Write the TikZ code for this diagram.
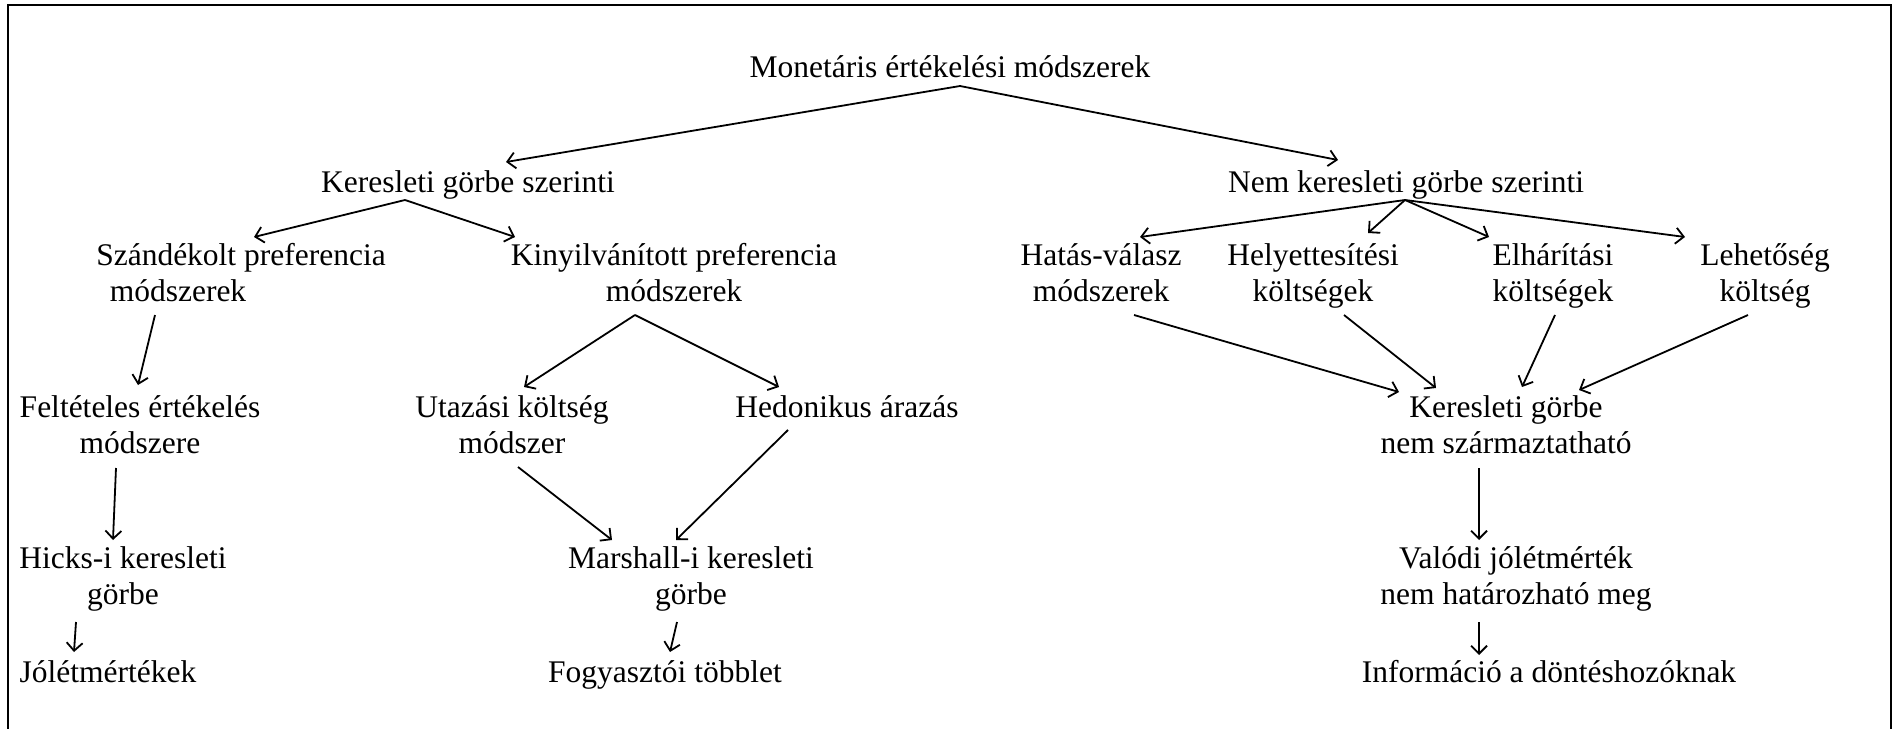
\documentclass[tikz,border=0pt]{standalone}
\usepackage{fontspec}
\setmainfont{Liberation Serif}
\usetikzlibrary{arrows.meta}
\tikzset{
  lbl/.style={anchor=base, align=center, inner sep=0pt, font=\fontsize{31.5}{36}\selectfont},
  arr/.style={line width=1.8pt, -{Straight Barb[length=8pt,width=16pt]}}
}
\begin{document}
\begin{tikzpicture}[x=1pt,y=-1pt]
        \useasboundingbox (0,0) rectangle (1894,728);
        \draw[line width=2pt] (8,740) -- (8,5) -- (1891,5) -- (1891,740);
        % levels (two-line nodes sit on their last line)
        \node[lbl] (mon) at (950,77) {Monetáris értékelési módszerek};
        \node[lbl] (ker) at (468,192) {Keresleti görbe szerinti};
        \node[lbl] (nem) at (1406,192) {Nem keresleti görbe szerinti};
        \node[lbl] (szan) at (241,301) {Szándékolt preferencia\\módszerek\hspace*{4em}};
        \node[lbl] (kin) at (674,301) {Kinyilvánított preferencia\\módszerek};
        \node[lbl] (hat) at (1101,301) {Hatás-válasz\\módszerek};
        \node[lbl] (hely) at (1313,301) {Helyettesítési\\költségek};
        \node[lbl] (elh) at (1553,301) {Elhárítási\\költségek};
        \node[lbl] (leh) at (1765,301) {Lehetőség\\költség};
        \node[lbl] (felt) at (140,453) {Feltételes értékelés\\módszere};
        \node[lbl] (uta) at (512,453) {Utazási költség\\módszer};
        \node[lbl] (hed) at (847,417) {Hedonikus árazás};
        \node[lbl] (ksz) at (1506,453) {Keresleti görbe\\nem származtatható};
        \node[lbl] (hic) at (123,604) {Hicks-i keresleti\\görbe};
        \node[lbl] (mar) at (691,604) {Marshall-i keresleti\\görbe};
        \node[lbl] (val) at (1516,604) {Valódi jólétmérték\\nem határozható meg};
        \node[lbl] (jol) at (108,682) {Jólétmértékek};
        \node[lbl] (fog) at (665,682) {Fogyasztói többlet};
        \node[lbl] (inf) at (1549,682) {Információ a döntéshozóknak};
        % arrows
        \draw[arr] ([shift={(10,9)}]mon.base) -- ([shift={(38,-30)}]ker.base);
        \draw[arr] ([shift={(10,9)}]mon.base) -- ([shift={(-68,-32)}]nem.base);
        \draw[arr] ([shift={(-63,8)}]ker.base) -- ([shift={(13,-64)}]szan.base);
        \draw[arr] ([shift={(-63,8)}]ker.base) -- ([shift={(-159,-64)}]kin.base);
        \draw[arr] ([shift={(-1,8)}]nem.base) -- ([shift={(39,-64)}]hat.base);
        \draw[arr] ([shift={(-1,8)}]nem.base) -- ([shift={(55,-68)}]hely.base);
        \draw[arr] ([shift={(-1,8)}]nem.base) -- ([shift={(-64,-64)}]elh.base);
        \draw[arr] ([shift={(-1,8)}]nem.base) -- ([shift={(-80,-64)}]leh.base);
        \draw[arr] ([shift={(-86,14)}]szan.base) -- ([shift={(-2,-68)}]felt.base);
        \draw[arr] ([shift={(-39,14)}]kin.base) -- ([shift={(12,-66)}]uta.base);
        \draw[arr] ([shift={(-39,14)}]kin.base) -- ([shift={(-68,-30)}]hed.base);
        \draw[arr] ([shift={(33,14)}]hat.base) -- ([shift={(-107,-61)}]ksz.base);
        \draw[arr] ([shift={(31,14)}]hely.base) -- ([shift={(-70,-65)}]ksz.base);
        \draw[arr] ([shift={(2,14)}]elh.base) -- ([shift={(16,-66)}]ksz.base);
        \draw[arr] ([shift={(-17,14)}]leh.base) -- ([shift={(73,-63)}]ksz.base);
        \draw[arr] ([shift={(-24,15)}]felt.base) -- ([shift={(-10,-64)}]hic.base);
        \draw[arr] ([shift={(6,14)}]uta.base) -- ([shift={(-79,-64)}]mar.base);
        \draw[arr] ([shift={(-59,13)}]hed.base) -- ([shift={(-15,-64)}]mar.base);
        \draw[arr] ([shift={(-27,15)}]ksz.base) -- ([shift={(-37,-64)}]val.base);
        \draw[arr] ([shift={(-14,18)}]mar.base) -- ([shift={(5,-30)}]fog.base);
        \draw[arr] ([shift={(-47,18)}]hic.base) -- ([shift={(-34,-30)}]jol.base);
        \draw[arr] ([shift={(-37,18)}]val.base) -- ([shift={(-70,-27)}]inf.base);
\end{tikzpicture}
\end{document}
